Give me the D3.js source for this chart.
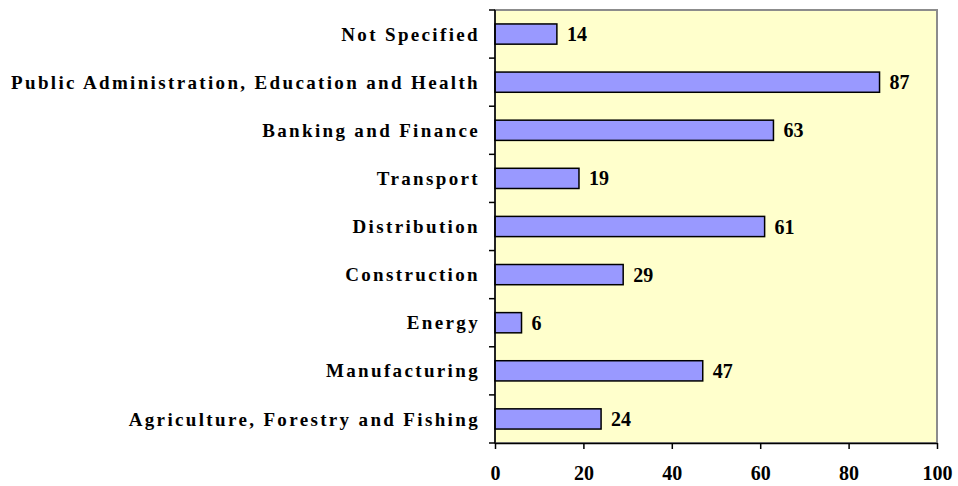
<!DOCTYPE html>
<html lang="en">
  <head>
    <meta charset="UTF-8" />
    <title>Employment by sector</title>
    <script src="https://cdnjs.cloudflare.com/ajax/libs/d3/7.8.5/d3.min.js"></script>
    <style>
      body { margin: 0; background: #fff; }
      text { font-family: "Liberation Serif", "Times New Roman", serif; font-weight: bold; }
    </style>
  </head>
  <body>
    <svg id="chart" width="958" height="486"></svg>

    <script type="text/javascript">
      var categories = [
        "Not Specified",
        "Public Administration, Education and Health",
        "Banking and Finance",
        "Transport",
        "Distribution",
        "Construction",
        "Energy",
        "Manufacturing",
        "Agriculture, Forestry and Fishing"
      ];
      var values = [14, 87, 63, 19, 61, 29, 6, 47, 24];
      var xTicks = [0, 20, 40, 60, 80, 100];

      var plotL = 495, plotR = 937, plotT = 10, plotB = 443;
      var svg = d3.select("#chart");

      var x = d3.scaleLinear().domain([0, 100]).range([plotL, plotR]);
      var y = d3.scaleBand().domain(categories).range([plotT, plotB]).paddingInner(0.58).paddingOuter(0.29);

      /* plot background */
      svg.append("rect")
        .attr("x", plotL).attr("y", plotT)
        .attr("width", plotR - plotL).attr("height", plotB - plotT)
        .style("fill", "#ffffcc")
        .style("stroke", "#8c8c8c")
        .style("stroke-width", 2);

      /* bars */
      svg.selectAll("rect.bar")
        .data(values)
        .enter()
        .append("rect")
        .attr("class", "bar")
        .attr("x", x(0))
        .attr("y", function (d, i) { return y(categories[i]); })
        .attr("width", function (d) { return x(d) - x(0); })
        .attr("height", y.bandwidth())
        .style("fill", "#9999ff")
        .style("stroke", "#000")
        .style("stroke-width", 1.5);

      /* value labels */
      svg.selectAll("text.val")
        .data(values)
        .enter()
        .append("text")
        .attr("class", "val")
        .attr("x", function (d) { return x(d) + 10; })
        .attr("y", function (d, i) { return y(categories[i]) + y.bandwidth() / 2; })
        .attr("dy", "0.35em")
        .style("font-size", "20px")
        .text(function (d) { return d; });

      /* y axis: line + ticks at band boundaries */
      svg.append("line")
        .attr("x1", plotL).attr("x2", plotL).attr("y1", plotT).attr("y2", plotB)
        .style("stroke", "#000").style("stroke-width", 1.5);
      var bounds = d3.range(categories.length + 1).map(function (i) {
        return plotT + i * (plotB - plotT) / categories.length;
      });
      svg.selectAll("line.ytick")
        .data(bounds)
        .enter()
        .append("line")
        .attr("x1", plotL - 6).attr("x2", plotL)
        .attr("y1", function (d) { return d; }).attr("y2", function (d) { return d; })
        .style("stroke", "#000").style("stroke-width", 1.5);

      svg.selectAll("text.cat")
        .data(categories)
        .enter()
        .append("text")
        .attr("class", "cat")
        .attr("x", 480)
        .attr("y", function (d) { return y(d) + y.bandwidth() / 2; })
        .attr("dy", "0.35em")
        .attr("text-anchor", "end")
        .style("font-size", "19px")
        .style("letter-spacing", "2.35px")
        .text(function (d) { return d; });

      /* x axis */
      var xAxis = d3.axisBottom(x).tickValues(xTicks).tickSize(6).tickSizeOuter(0).tickPadding(17);
      var gx = svg.append("g").attr("transform", "translate(0," + plotB + ")").call(xAxis);
      gx.select(".domain").style("stroke", "#000").style("stroke-width", 1.5);
      gx.selectAll(".tick line").style("stroke", "#000").style("stroke-width", 1.5);
      gx.selectAll(".tick text")
        .style("font-family", "'Liberation Serif', 'Times New Roman', serif")
        .style("font-weight", "bold")
        .style("font-size", "20px")
        .style("fill", "#000");
    </script>
  </body>
</html>
